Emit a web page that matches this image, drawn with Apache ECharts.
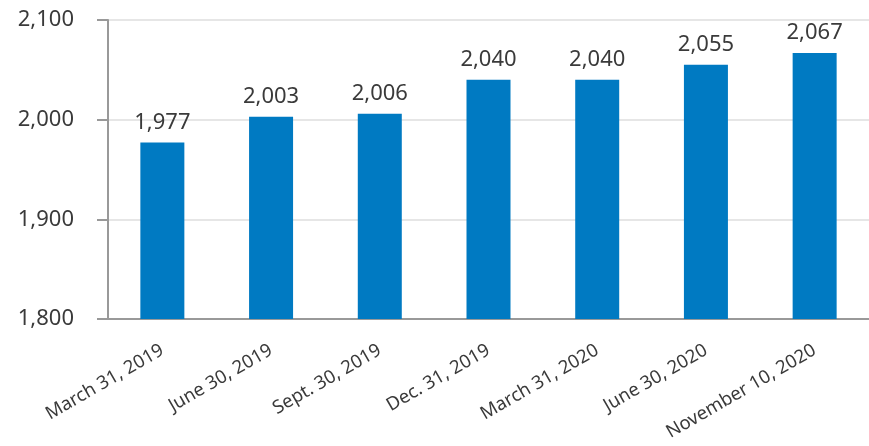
<!DOCTYPE html>
<html><head><meta charset="utf-8">
<script src="https://cdn.jsdelivr.net/npm/echarts@6/dist/echarts.min.js"></script>
<style>html,body{margin:0;padding:0;background:#fff}#c{width:869px;height:446px}</style>
</head><body><div id="c"></div>
<script>
const categories = ["March 31, 2019","June 30, 2019","Sept. 30, 2019","Dec. 31, 2019","March 31, 2020","June 30, 2020","November 10, 2020"];
const values = [1977, 2003, 2006, 2040, 2040, 2055, 2067];
const yMin = 1800, yMax = 2100, yStep = 100;
const FONT = "'Noto Sans', 'DejaVu Sans', sans-serif";
const chart = echarts.init(document.getElementById('c'), null, {renderer:'canvas'});
const fmt = v => v.toLocaleString('en-US');
chart.setOption({
  animation:false,
  grid:{left:108, right:-9, top:20, bottom:127, containLabel:false},
  xAxis:{type:'category', data:categories,
    axisLine:{lineStyle:{color:'#999', width:2}},
    axisTick:{alignWithLabel:true, length:11, lineStyle:{color:'#999', width:2}},
    axisLabel:{rotate:30, color:'#3a3a3a', fontFamily:FONT, fontSize:18.5, margin:30, interval:0}},
  yAxis:{type:'value', min:yMin, max:yMax, interval:yStep,
    axisLine:{show:true, lineStyle:{color:'#999', width:2}},
    axisTick:{show:true, length:11, lineStyle:{color:'#999', width:2}},
    splitLine:{lineStyle:{color:'#e6e6e6', width:2}},
    axisLabel:{color:'#3a3a3a', fontFamily:FONT, fontSize:22, margin:34, formatter:fmt}},
  series:[{type:'bar', data:values, barWidth:44, itemStyle:{color:'#007AC2'},
    label:{show:true, position:'top', distance:9, color:'#3a3a3a', fontFamily:FONT, fontSize:22, formatter:p=>fmt(p.value)}}]
});
</script></body></html>
